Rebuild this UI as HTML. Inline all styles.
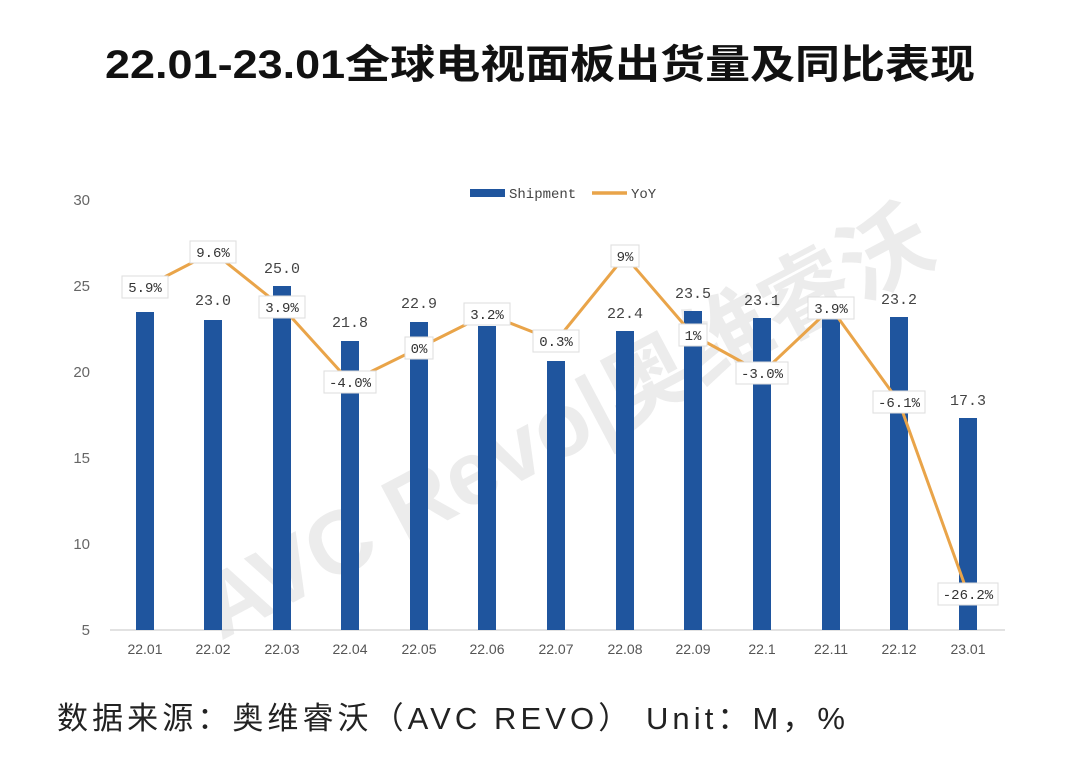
<!DOCTYPE html>
<html><head><meta charset="utf-8"><style>
body{margin:0;background:#fff;}
svg{display:block;}
</style></head><body>
<svg width="1080" height="761" viewBox="0 0 1080 761" xmlns="http://www.w3.org/2000/svg">
<rect width="1080" height="761" fill="#fff"/>
<text x="105" y="78" textLength="870" lengthAdjust="spacingAndGlyphs" font-family="Liberation Sans, Noto Sans CJK SC, sans-serif" font-weight="bold" font-size="40" fill="#111">22.01-23.01全球电视面板出货量及同比表现</text>
<!-- watermark -->
<text x="580" y="450" text-anchor="middle" transform="rotate(-28 580 450)" font-family="Liberation Sans, Noto Sans CJK SC, sans-serif" font-weight="bold" font-size="90" fill="#ececec">AVC Revo|奥维睿沃</text>
<!-- legend -->
<rect x="470" y="189" width="35" height="8" fill="#1f559e"/>
<text x="509" y="198" font-family="Liberation Mono, monospace" font-size="14" fill="#444">Shipment</text>
<line x1="592" y1="193" x2="627" y2="193" stroke="#e9a449" stroke-width="3.5"/>
<text x="631" y="198" font-family="Liberation Mono, monospace" font-size="14" fill="#444">YoY</text>
<!-- y axis labels -->
<g font-family="Liberation Sans, sans-serif" font-size="15" fill="#666" text-anchor="end">
<text x="90" y="205">30</text><text x="90" y="291">25</text><text x="90" y="377">20</text>
<text x="90" y="463">15</text><text x="90" y="549">10</text><text x="90" y="635">5</text>
</g>
<line x1="110" y1="630" x2="1005" y2="630" stroke="#d9d9d9" stroke-width="1.5"/>
<!-- bars -->
<g fill="#1f559e">
<rect x="136" y="312" width="18" height="318"/>
<rect x="204" y="320" width="18" height="310"/>
<rect x="273" y="286" width="18" height="344"/>
<rect x="341" y="341" width="18" height="289"/>
<rect x="410" y="322" width="18" height="308"/>
<rect x="478" y="326" width="18" height="304"/>
<rect x="547" y="361" width="18" height="269"/>
<rect x="616" y="331" width="18" height="299"/>
<rect x="684" y="311" width="18" height="319"/>
<rect x="753" y="318" width="18" height="312"/>
<rect x="822" y="319" width="18" height="311"/>
<rect x="890" y="317" width="18" height="313"/>
<rect x="959" y="418" width="18" height="212"/>
</g>
<!-- bar labels -->
<g font-family="Liberation Mono, monospace" font-size="15" fill="#444" text-anchor="middle">
<text x="213" y="305">23.0</text><text x="282" y="273">25.0</text><text x="350" y="327">21.8</text>
<text x="419" y="308">22.9</text><text x="625" y="318">22.4</text><text x="693" y="298">23.5</text>
<text x="762" y="305">23.1</text><text x="899" y="304">23.2</text><text x="968" y="405">17.3</text>
</g>
<!-- line -->
<polyline fill="none" stroke="#e9a449" stroke-width="3" stroke-linejoin="round" points="145,287 213,252 282,307 350,382 419,348 487,314 556,341 625,256 693,335 762,373 831,308 899,402 968,594"/>
<!-- yoy labels -->
<g font-family="Liberation Mono, monospace" font-size="14" fill="#333" text-anchor="middle">
<g><rect x="122" y="276" width="46" height="22" fill="#fff" stroke="#ddd"/><text x="145" y="292">5.9%</text></g>
<g><rect x="190" y="241" width="46" height="22" fill="#fff" stroke="#ddd"/><text x="213" y="257">9.6%</text></g>
<g><rect x="259" y="296" width="46" height="22" fill="#fff" stroke="#ddd"/><text x="282" y="312">3.9%</text></g>
<g><rect x="324" y="371" width="52" height="22" fill="#fff" stroke="#ddd"/><text x="350" y="387">-4.0%</text></g>
<g><rect x="405" y="337" width="28" height="22" fill="#fff" stroke="#ddd"/><text x="419" y="353">0%</text></g>
<g><rect x="464" y="303" width="46" height="22" fill="#fff" stroke="#ddd"/><text x="487" y="319">3.2%</text></g>
<g><rect x="533" y="330" width="46" height="22" fill="#fff" stroke="#ddd"/><text x="556" y="346">0.3%</text></g>
<g><rect x="611" y="245" width="28" height="22" fill="#fff" stroke="#ddd"/><text x="625" y="261">9%</text></g>
<g><rect x="679" y="324" width="28" height="22" fill="#fff" stroke="#ddd"/><text x="693" y="340">1%</text></g>
<g><rect x="736" y="362" width="52" height="22" fill="#fff" stroke="#ddd"/><text x="762" y="378">-3.0%</text></g>
<g><rect x="808" y="297" width="46" height="22" fill="#fff" stroke="#ddd"/><text x="831" y="313">3.9%</text></g>
<g><rect x="873" y="391" width="52" height="22" fill="#fff" stroke="#ddd"/><text x="899" y="407">-6.1%</text></g>
<g><rect x="938" y="583" width="60" height="22" fill="#fff" stroke="#ddd"/><text x="968" y="599">-26.2%</text></g>
</g>
<!-- x labels -->
<g font-family="Liberation Sans, sans-serif" font-size="14" fill="#555" text-anchor="middle">
<text x="145" y="654">22.01</text><text x="213" y="654">22.02</text><text x="282" y="654">22.03</text>
<text x="350" y="654">22.04</text><text x="419" y="654">22.05</text><text x="487" y="654">22.06</text>
<text x="556" y="654">22.07</text><text x="625" y="654">22.08</text><text x="693" y="654">22.09</text>
<text x="762" y="654">22.1</text><text x="831" y="654">22.11</text><text x="899" y="654">22.12</text>
<text x="968" y="654">23.01</text>
</g>
<text x="57" y="729" textLength="788" lengthAdjust="spacing" font-family="Liberation Sans, Noto Sans CJK SC, sans-serif" font-size="31" fill="#222">数据来源：奥维睿沃（AVC REVO）  Unit：M，%</text>
</svg>
</body></html>
